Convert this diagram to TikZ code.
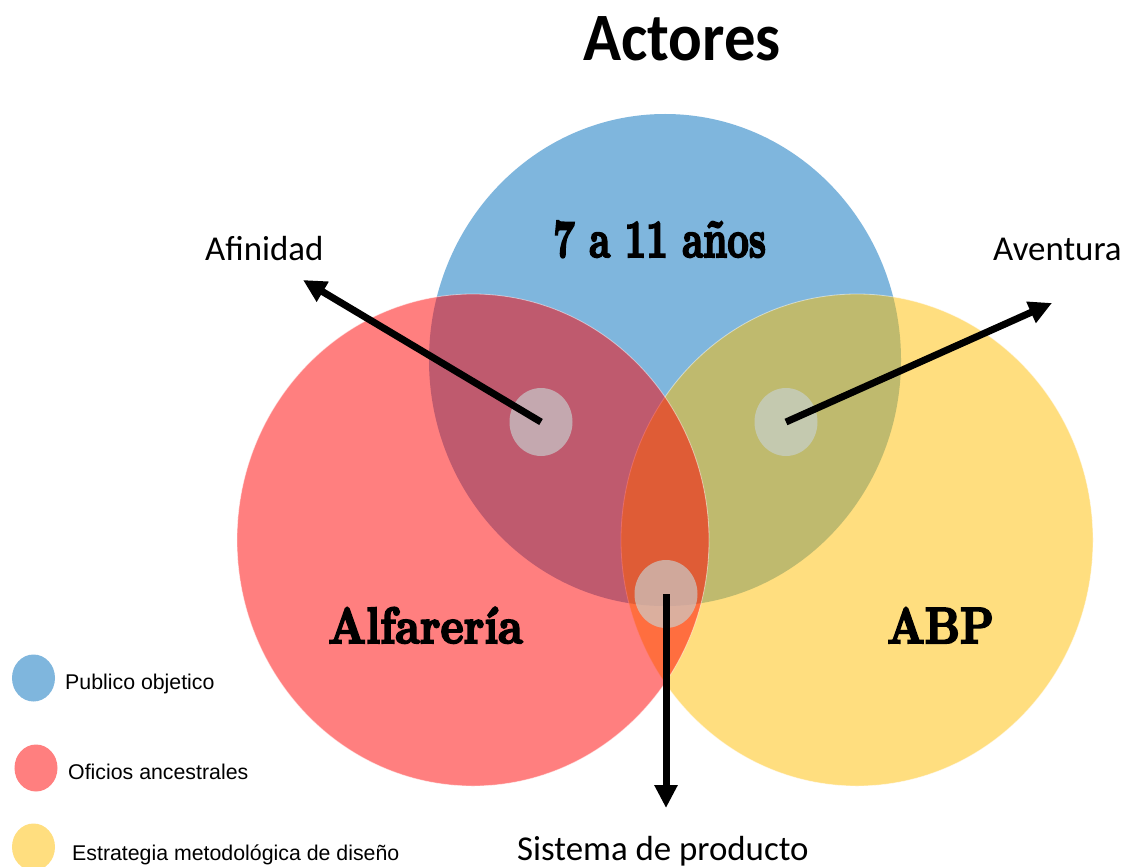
\documentclass[tikz,border=0pt]{standalone}
\usepackage{fontspec}
\usetikzlibrary{shapes.geometric,arrows.meta}
\newfontfamily\calibri{Carlito}
\newfontfamily\arialf{Liberation Sans}
\newfontfamily\heavyserif{lmroman10-bold.otf}[FakeBold=4]
\definecolor{cblue}{RGB}{127,182,221}
\definecolor{cyellow}{RGB}{255,190,0}
\definecolor{cred}{RGB}{255,0,0}
\definecolor{cdot}{RGB}{200,210,210}
\tikzset{
  bigset/.style={ellipse, inner sep=0pt, minimum width=472bp, minimum height=492bp},
  bluec/.style={fill=cblue},
  yellowc/.style={fill=cyellow, fill opacity=0.5, draw=white, draw opacity=0.5, line width=0.8bp},
  redc/.style={fill=cred, fill opacity=0.5, draw=white, draw opacity=0.5, line width=0.8bp},
  dotc/.style={ellipse, inner sep=0pt, minimum width=63bp, minimum height=68bp, fill=cdot, fill opacity=0.65},
  legc/.style={ellipse, inner sep=0pt, minimum width=43bp, minimum height=47bp},
  conn/.style={line width=7bp, -{Triangle[length=23bp,width=22bp]}},
  setlabel/.style={inner sep=0pt, anchor=base west, font=\heavyserif\fontsize{51}{55}\selectfont},
  callout/.style={inner sep=0pt, anchor=base west, font=\calibri\fontsize{35}{40}\selectfont},
  legtext/.style={inner sep=0pt, anchor=base west, font=\arialf\fontsize{21.4}{25}\selectfont},
}
\begin{document}
\begin{tikzpicture}[x=1bp,y=-1bp]
\fill[white] (0,0) rectangle (1131,867);
\useasboundingbox (0,0) rectangle (1131,867);
% title
\node[inner sep=0pt, anchor=base, font=\calibri\bfseries\fontsize{63}{68}\selectfont] (title) at (682,60) {\scalebox{1}[1.08]{Actores}};
% big sets
\node[bigset, bluec] (pub) at (665,360) {};
\node[bigset, yellowc] (est) at (857,540) {};
\node[bigset, redc] (ofi) at (473,540) {};
% intersection dots
\node[dotc] (d1) at (541,422) {};
\node[dotc] (d2) at (786,422) {};
\node[dotc] (d3) at (666,594) {};
% arrow ends
\coordinate (e1) at (303,280);
\coordinate (e2) at (1052,303);
\coordinate (e3) at (666,808);
\draw[conn] (d1.center) -- (e1);
\draw[conn] (d2.center) -- (e2);
\draw[conn] (d3.center) -- (e3);
% set labels
\node[setlabel] (l1) at (553,257) {\scalebox{0.74}[1.05]{7 a 11 años}};
\node[setlabel] (l2) at (328,643) {\scalebox{0.86}[1]{Alfarería}};
\node[setlabel] (l3) at (887,643) {\scalebox{0.85}[1]{ABP}};
% callouts
\node[callout] (c1) at (205,260) {Afinidad};
\node[callout] (c2) at (993,260) {Aventura};
\node[callout] (c3) at (517,860) {Sistema de producto};
% legend
\node[legc, bluec] (k1) at (33.5,678) {};
\node[legc, redc, draw=none] (k2) at (36,768) {};
\node[legc, yellowc, draw=none] (k3) at (33.5,847) {};
\node[legtext] (t1) at (65,689) {Publico objetico};
\node[legtext] (t2) at (68,779) {Oficios ancestrales};
\node[legtext] (t3) at (72,860) {Estrategia metodológica de diseño};
\end{tikzpicture}
\end{document}
